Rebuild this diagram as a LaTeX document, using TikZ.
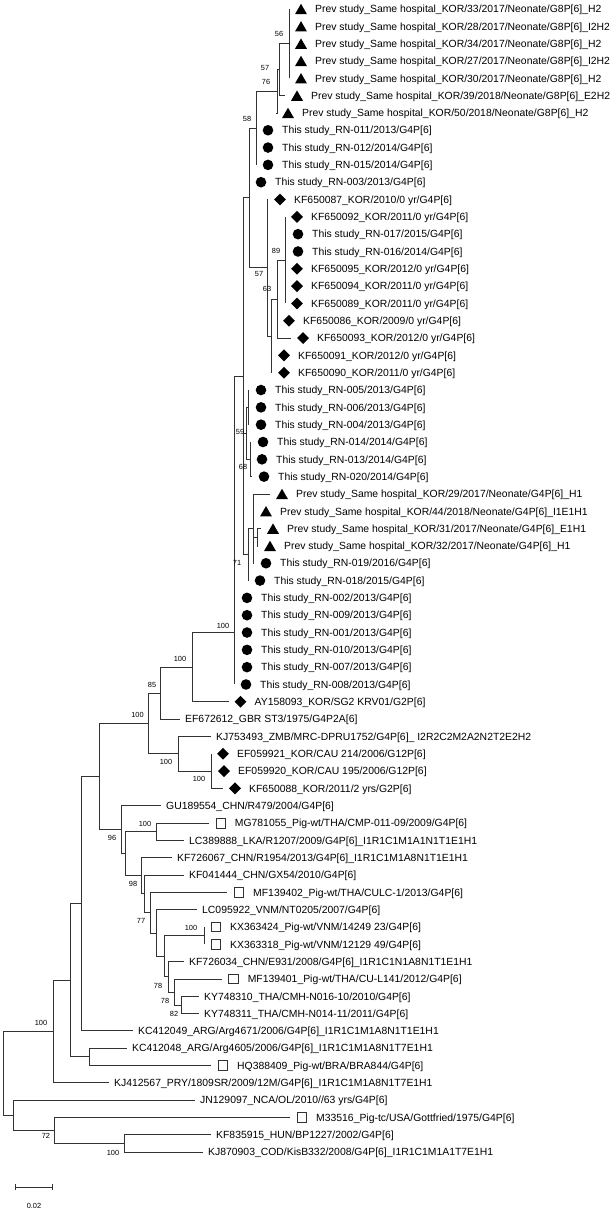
\documentclass[tikz,border=0pt]{standalone}
\usepackage{fontspec}
\setmainfont{Liberation Sans}
\usetikzlibrary{calc,shapes.geometric}
\newcommand\ly[1]{9+17.32*(#1-1)}
\newcommand\leafM[5]{%
  \coordinate (#1) at (#3,{\ly{#2}});
  \node[#4] (#1m) at ($(#1)+(12,0)$) {};
  \node[txt] (#1t) at ($(#1)+(26,0)$) {#5};}
\newcommand\leafN[4]{%
  \coordinate (#1) at (#3,{\ly{#2}});
  \node[txt] (#1t) at ($(#1)+(5,0)$) {#4};}
\newcommand\inode[4]{\path let \p1=(#3), \p2=(#4) in (#2,{0.5*(\y1+\y2)}) coordinate (#1);}
\newcommand\kids[2]{\foreach \ch in {#2} {\draw[br] (#1) |- (\ch);}}
\begin{document}
\begin{tikzpicture}[x=1pt,y=-1pt,
  br/.style={draw=black!80, line width=0.8pt},
  txt/.style={anchor=west, inner sep=0pt, text height=7.5pt, text depth=0pt, font=\fontsize{10.4}{12}\selectfont},
  bs/.style={inner sep=0pt, text height=5.3pt, text depth=0pt, font=\fontsize{7.4}{9}\selectfont},
  tri/.style={regular polygon, regular polygon sides=3, fill=black, inner sep=0pt, minimum size=13.8pt, yshift=-1.7pt},
  circ/.style={circle, fill=black, inner sep=0pt, minimum size=10.6pt},
  dia/.style={diamond, fill=black, inner sep=0pt, minimum width=12pt, minimum height=12pt},
  sq/.style={rectangle, draw=black!80, line width=0.7pt, fill=white, inner sep=0pt, minimum size=9.6pt},
]
\useasboundingbox (0,0) rectangle (613,1210);
% ---------- leaves ----------
\leafM{L1}{1}{289}{tri}{Prev study\_Same hospital\_KOR/33/2017/Neonate/G8P[6]\_H2}
\leafM{L2}{2}{289}{tri}{Prev study\_Same hospital\_KOR/28/2017/Neonate/G8P[6]\_I2H2}
\leafM{L3}{3}{289}{tri}{Prev study\_Same hospital\_KOR/34/2017/Neonate/G8P[6]\_H2}
\leafM{L4}{4}{289}{tri}{Prev study\_Same hospital\_KOR/27/2017/Neonate/G8P[6]\_I2H2}
\leafM{L5}{5}{289}{tri}{Prev study\_Same hospital\_KOR/30/2017/Neonate/G8P[6]\_H2}
\leafM{L6}{6}{285}{tri}{Prev study\_Same hospital\_KOR/39/2018/Neonate/G8P[6]\_E2H2}
\leafM{L7}{7}{276}{tri}{Prev study\_Same hospital\_KOR/50/2018/Neonate/G8P[6]\_H2}
\leafM{L8}{8}{256}{circ}{This study\_RN-011/2013/G4P[6]}
\leafM{L9}{9}{256}{circ}{This study\_RN-012/2014/G4P[6]}
\leafM{L10}{10}{256}{circ}{This study\_RN-015/2014/G4P[6]}
\leafM{L11}{11}{249}{circ}{This study\_RN-003/2013/G4P[6]}
\leafM{L12}{12}{268}{dia}{KF650087\_KOR/2010/0 yr/G4P[6]}
\leafM{L13}{13}{285}{dia}{KF650092\_KOR/2011/0 yr/G4P[6]}
\leafM{L14}{14}{286}{circ}{This study\_RN-017/2015/G4P[6]}
\leafM{L15}{15}{286}{circ}{This study\_RN-016/2014/G4P[6]}
\leafM{L16}{16}{285}{dia}{KF650095\_KOR/2012/0 yr/G4P[6]}
\leafM{L17}{17}{285}{dia}{KF650094\_KOR/2011/0 yr/G4P[6]}
\leafM{L18}{18}{285}{dia}{KF650089\_KOR/2011/0 yr/G4P[6]}
\leafM{L19}{19}{277}{dia}{KF650086\_KOR/2009/0 yr/G4P[6]}
\leafM{L20}{20}{291}{dia}{KF650093\_KOR/2012/0 yr/G4P[6]}
\leafM{L21}{21}{272}{dia}{KF650091\_KOR/2012/0 yr/G4P[6]}
\leafM{L22}{22}{272}{dia}{KF650090\_KOR/2011/0 yr/G4P[6]}
\leafM{L23}{23}{249}{circ}{This study\_RN-005/2013/G4P[6]}
\leafM{L24}{24}{249}{circ}{This study\_RN-006/2013/G4P[6]}
\leafM{L25}{25}{249}{circ}{This study\_RN-004/2013/G4P[6]}
\leafM{L26}{26}{251}{circ}{This study\_RN-014/2014/G4P[6]}
\leafM{L27}{27}{250}{circ}{This study\_RN-013/2014/G4P[6]}
\leafM{L28}{28}{252}{circ}{This study\_RN-020/2014/G4P[6]}
\leafM{L29}{29}{270}{tri}{Prev study\_Same hospital\_KOR/29/2017/Neonate/G4P[6]\_H1}
\leafM{L30}{30}{254}{tri}{Prev study\_Same hospital\_KOR/44/2018/Neonate/G4P[6]\_I1E1H1}
\leafM{L31}{31}{261}{tri}{Prev study\_Same hospital\_KOR/31/2017/Neonate/G4P[6]\_E1H1}
\leafM{L32}{32}{258}{tri}{Prev study\_Same hospital\_KOR/32/2017/Neonate/G4P[6]\_H1}
\leafM{L33}{33}{254}{circ}{This study\_RN-019/2016/G4P[6]}
\leafM{L34}{34}{248}{circ}{This study\_RN-018/2015/G4P[6]}
\leafM{L35}{35}{235}{circ}{This study\_RN-002/2013/G4P[6]}
\leafM{L36}{36}{235}{circ}{This study\_RN-009/2013/G4P[6]}
\leafM{L37}{37}{235}{circ}{This study\_RN-001/2013/G4P[6]}
\leafM{L38}{38}{235}{circ}{This study\_RN-010/2013/G4P[6]}
\leafM{L39}{39}{235}{circ}{This study\_RN-007/2013/G4P[6]}
\leafM{L40}{40}{234}{circ}{This study\_RN-008/2013/G4P[6]}
\leafM{L41}{41}{228.5}{dia}{AY158093\_KOR/SG2 KRV01/G2P[6]}
\leafN{L42}{42}{180}{EF672612\_GBR ST3/1975/G4P2A[6]}
\leafN{L43}{43}{211}{KJ753493\_ZMB/MRC-DPRU1752/G4P[6]\_ I2R2C2M2A2N2T2E2H2}
\leafM{L44}{44}{211}{dia}{EF059921\_KOR/CAU 214/2006/G12P[6]}
\leafM{L45}{45}{212}{dia}{EF059920\_KOR/CAU 195/2006/G12P[6]}
\leafM{L46}{46}{223}{dia}{KF650088\_KOR/2011/2 yrs/G2P[6]}
\leafN{L47}{47}{161}{GU189554\_CHN/R479/2004/G4P[6]}
\leafM{L48}{48}{208.7}{sq}{MG781055\_Pig-wt/THA/CMP-011-09/2009/G4P[6]}
\leafN{L49}{49}{184}{LC389888\_LKA/R1207/2009/G4P[6]\_I1R1C1M1A1N1T1E1H1}
\leafN{L50}{50}{172}{KF726067\_CHN/R1954/2013/G4P[6]\_I1R1C1M1A8N1T1E1H1}
\leafN{L51}{51}{184}{KF041444\_CHN/GX54/2010/G4P[6]}
\leafM{L52}{52}{227}{sq}{MF139402\_Pig-wt/THA/CULC-1/2013/G4P[6]}
\leafN{L53}{53}{197}{LC095922\_VNM/NT0205/2007/G4P[6]}
\leafM{L54}{54}{204}{sq}{KX363424\_Pig-wt/VNM/14249 23/G4P[6]}
\leafM{L55}{55}{204}{sq}{KX363318\_Pig-wt/VNM/12129 49/G4P[6]}
\leafN{L56}{56}{184}{KF726034\_CHN/E931/2008/G4P[6]\_I1R1C1N1A8N1T1E1H1}
\leafM{L57}{57}{221.6}{sq}{MF139401\_Pig-wt/THA/CU-L141/2012/G4P[6]}
\leafN{L58}{58}{199}{KY748310\_THA/CMH-N016-10/2010/G4P[6]}
\leafN{L59}{59}{199}{KY748311\_THA/CMH-N014-11/2011/G4P[6]}
\leafN{L60}{60}{133}{KC412049\_ARG/Arg4671/2006/G4P[6]\_I1R1C1M1A8N1T1E1H1}
\leafN{L61}{61}{127}{KC412048\_ARG/Arg4605/2006/G4P[6]\_I1R1C1M1A8N1T7E1H1}
\leafM{L62}{62}{211}{sq}{HQ388409\_Pig-wt/BRA/BRA844/G4P[6]}
\leafN{L63}{63}{109}{KJ412567\_PRY/1809SR/2009/12M/G4P[6]\_I1R1C1M1A8N1T7E1H1}
\leafN{L64}{64}{195}{JN129097\_NCA/OL/2010//63 yrs/G4P[6]}
\leafM{L65}{65}{290}{sq}{M33516\_Pig-tc/USA/Gottfried/1975/G4P[6]}
\leafN{L66}{66}{211}{KF835915\_HUN/BP1227/2002/G4P[6]}
\leafN{L67}{67}{203}{KJ870903\_COD/KisB332/2008/G4P[6]\_I1R1C1M1A1T7E1H1}
% ---------- internal nodes ----------
\inode{P1}{289}{L1}{L5}
\inode{P2a}{279}{P1}{L6}
\inode{P2}{277}{P2a}{L7}
\inode{P3}{256}{P2}{L10}
\inode{nb}{285}{L13}{L18}
\inode{ng}{277}{nb}{L20}
\inode{nd}{271}{ng}{L22}
\inode{ne}{267}{L12}{nd}
\inode{n4}{249}{P3}{ne}
\inode{n005}{248}{L23}{L25}
\inode{n014}{250}{L26}{L28}
\inode{neta}{246}{n005}{n014}
\inode{nzeta}{257}{L31}{L32}
\inode{nxi}{253}{L29}{L33}
\inode{npsi}{248}{nxi}{L34}
\inode{nphi}{243}{n4}{npsi}
\coordinate (nQ) at (234,632.5);
\inode{nQp}{192}{nQ}{L41}
\inode{nK}{160}{nQp}{L42}
\inode{nM}{211}{L44}{L46}
\inode{nL}{178}{L43}{nM}
\inode{nI}{148.4}{nK}{nL}
\inode{nMG}{156}{L48}{L49}
\inode{nKX}{204}{L54}{L55}
\inode{nY1}{181.6}{L58}{L59}
\inode{nY2}{174}{L57}{nY1}
\inode{nY3}{168}{L56}{nY2}
\inode{nY4}{164}{nKX}{nY3}
\inode{nY5}{156}{L53}{nY4}
\inode{nJ5}{150}{L52}{nY5}
\inode{nJ4}{144.5}{L51}{nJ5}
\inode{nJ3}{141}{L50}{nJ4}
\inode{nJ2}{125}{nMG}{nJ3}
\inode{nJ}{121}{L47}{nJ2}
\inode{nH}{99.6}{nI}{nJ}
\inode{nF}{81}{nH}{L60}
\inode{nG}{89}{L61}{L62}
\inode{nE}{70}{nF}{nG}
\inode{nA}{53}{nE}{L63}
\inode{nD}{124}{L66}{L67}
\inode{nC}{54}{L65}{nD}
\inode{nB}{13.7}{L64}{nC}
\inode{nR}{3}{nA}{nB}
% ---------- branches ----------
\kids{P1}{L1,L2,L3,L4,L5}
\kids{P2a}{P1,L6}
\kids{P2}{P2a,L7}
\kids{P3}{P2,L8,L9,L10}
\kids{nb}{L13,L14,L15,L16,L17,L18}
\kids{ng}{nb,L19,L20}
\kids{nd}{ng,L21,L22}
\kids{ne}{L12,nd}
\kids{n4}{P3,L11,ne}
\kids{n005}{L23,L24,L25}
\kids{n014}{L26,L27,L28}
\kids{neta}{n005,n014}
\kids{nzeta}{L31,L32}
\kids{nxi}{L29,L30,nzeta,L33}
\kids{npsi}{nxi,L34}
\kids{nphi}{n4,neta,npsi}
\kids{nQ}{nphi,L35,L36,L37,L38,L39,L40}
\kids{nQp}{nQ,L41}
\kids{nK}{nQp,L42}
\kids{nM}{L44,L45,L46}
\kids{nL}{L43,nM}
\kids{nI}{nK,nL}
\kids{nMG}{L48,L49}
\kids{nKX}{L54,L55}
\kids{nY1}{L58,L59}
\kids{nY2}{L57,nY1}
\kids{nY3}{L56,nY2}
\kids{nY4}{nKX,nY3}
\kids{nY5}{L53,nY4}
\kids{nJ5}{L52,nY5}
\kids{nJ4}{L51,nJ5}
\kids{nJ3}{L50,nJ4}
\kids{nJ2}{nMG,nJ3}
\kids{nJ}{L47,nJ2}
\kids{nH}{nI,nJ}
\kids{nF}{nH,L60}
\kids{nG}{L61,L62}
\kids{nE}{nF,nG}
\kids{nA}{nE,L63}
\kids{nD}{L66,L67}
\kids{nC}{L65,nD}
\kids{nB}{L64,nC}
\kids{nR}{nA,nB}
% ---------- bootstrap values ----------
\node[bs] (b1) at (279,34) {56};
\node[bs] (b2) at (265,68) {57};
\node[bs] (b3) at (266,82) {76};
\node[bs] (b4) at (247,119) {58};
\node[bs] (b5) at (276,251) {89};
\node[bs] (b6) at (259,274) {57};
\node[bs] (b7) at (267,289) {63};
\node[bs] (b8) at (240,432) {59};
\node[bs] (b9) at (243,467) {68};
\node[bs] (b10) at (237,563) {71};
\node[bs] (b11) at (223,626) {100};
\node[bs] (b12) at (180,659) {100};
\node[bs] (b13) at (152,685) {85};
\node[bs] (b14) at (137.5,715) {100};
\node[bs] (b15) at (166,762) {100};
\node[bs] (b16) at (199,779) {100};
\node[bs] (b17) at (145,824) {100};
\node[bs] (b18) at (112,838) {96};
\node[bs] (b19) at (133,884) {98};
\node[bs] (b20) at (141,921) {77};
\node[bs] (b21) at (191,928) {100};
\node[bs] (b22) at (158,986) {78};
\node[bs] (b23) at (165,1001) {78};
\node[bs] (b24) at (174,1014) {82};
\node[bs] (b25) at (41,1023) {100};
\node[bs] (b26) at (46,1136) {72};
\node[bs] (b27) at (113,1153) {100};
% ---------- scale bar ----------
\coordinate (s1) at (15.6,1187);
\coordinate (s2) at (52.7,1187);
\draw[br] (s1) -- (s2);
\draw[br] ($(s1)+(0,-3)$) -- ($(s1)+(0,3)$);
\draw[br] ($(s2)+(0,-3)$) -- ($(s2)+(0,3)$);
\node[bs] (sl) at (34,1206) {0.02};
\end{tikzpicture}
\end{document}
